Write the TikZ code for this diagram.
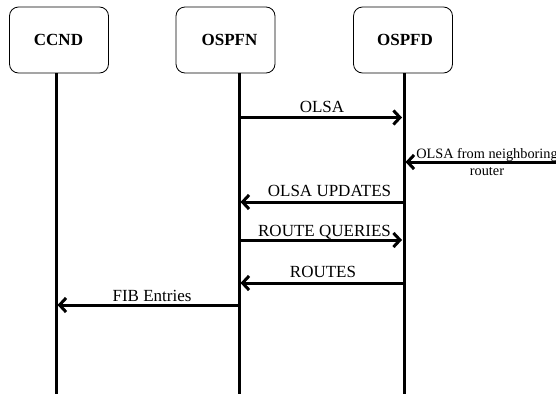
\documentclass[tikz,border=0pt]{standalone}
\usepackage{fontspec}
\setmainfont{Liberation Serif}
\usetikzlibrary{arrows.meta}
\begin{document}
\begin{tikzpicture}[x=1pt,y=-1pt,
  actor/.style={draw=black,line width=0.8pt,rounded corners=9pt,minimum width=99pt,minimum height=66pt,inner sep=0pt},
  actorname/.style={font=\fontsize{17}{20}\selectfont\bfseries},
  lifeline/.style={line width=3pt},
  msg/.style={line width=3pt,-{Straight Barb[length=6.5pt,width=14pt]}},
  msglabel/.style={font=\fontsize{17}{20}\selectfont,inner sep=0pt,anchor=base},
  smalllabel/.style={font=\fontsize{14.3}{16.5}\selectfont,inner sep=0pt,align=center}]
  \useasboundingbox (0,0) rectangle (556,394);

  % participants
  \node[actor] (ccnd)  at (59,40)   {};
  \node[actor] (ospfn) at (225.5,40) {};
  \node[actor] (ospfd) at (403,40)  {};
  \node[actorname] (ccndname)  at (58.5,39.5) {CCND};
  \node[actorname] (ospfnname) at (229.5,39.5) {OSPFN};
  \node[actorname] (ospfdname) at (405,39.5)  {OSPFD};

  % lifelines
  \coordinate (ccndend)  at (56,394);
  \coordinate (ospfnend) at (239,394);
  \coordinate (ospfdend) at (404,394);
  \draw[lifeline] (ccnd.south -| ccndend) -- (ccndend);
  \draw[lifeline] (ospfn.south -| ospfnend) -- (ospfnend);
  \draw[lifeline] (ospfd.south -| ospfdend) -- (ospfdend);

  % message end points on the lifelines
  \coordinate (olsaN)   at (239,117.5);
  \coordinate (olsaD)   at (402,117.5);
  \coordinate (nbrE)    at (556,162);
  \coordinate (nbrD)    at (405.5,162);
  \coordinate (updD)    at (404,202);
  \coordinate (updN)    at (240.5,202);
  \coordinate (qryN)    at (239,240);
  \coordinate (qryD)    at (402,240);
  \coordinate (rtD)     at (404,283);
  \coordinate (rtN)     at (240.5,283);
  \coordinate (fibN)    at (239,305);
  \coordinate (fibC)    at (57.5,305);

  % messages
  \draw[msg] (olsaN) -- (olsaD);
  \node[msglabel] (olsalabel) at (322,112) {OLSA};

  \draw[msg] (nbrE) -- (nbrD);
  \node[smalllabel] (nbrlabel) at (487,162) {OLSA from neighboring\\router};

  \draw[msg] (updD) -- (updN);
  \node[msglabel] (updlabel) at (329.5,196.5) {OLSA UPDATES};

  \draw[msg] (qryN) -- (qryD);
  \node[msglabel] (qrylabel) at (324.5,236.5) {ROUTE QUERIES};

  \draw[msg] (rtD) -- (rtN);
  \node[msglabel] (rtlabel) at (323,277.5) {ROUTES};

  \draw[msg] (fibN) -- (fibC);
  \node[msglabel] (fiblabel) at (152,301.5) {FIB Entries};
\end{tikzpicture}
\end{document}
